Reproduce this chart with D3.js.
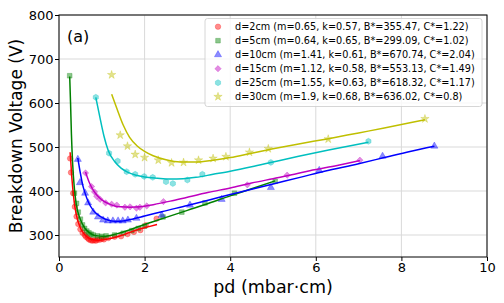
<!DOCTYPE html>
<html><head><meta charset="utf-8">
<script src="https://cdn.jsdelivr.net/npm/d3@7"></script>
<style>body{margin:0;background:#fff}svg{display:block;font-family:"DejaVu Sans",sans-serif}</style>
</head><body><svg id="c" width="504" height="303"></svg>
<script>
const seriesNames = ["d=2cm (m=0.65, k=0.57, B*=355.47, C*=1.22)","d=5cm (m=0.64, k=0.65, B*=299.09, C*=1.02)","d=10cm (m=1.41, k=0.61, B*=670.74, C*=2.04)","d=15cm (m=1.12, k=0.58, B*=553.13, C*=1.49)","d=25cm (m=1.55, k=0.63, B*=618.32, C*=1.17)","d=30cm (m=1.9, k=0.68, B*=636.02, C*=0.8)"];
const colors = ["#ff0000","#008000","#0000ff","#bf00bf","#00bfbf","#bfbf00"];
const markers = ["circle","square","triangle","diamond","hexagon","star"];
const xTicks = [0,2,4,6,8,10];
const yTicks = [300,400,500,600,700,800];

// measured points [pd, V]
const pts2 = [[0.26,474],[0.28,442],[0.33,395],[0.37,364],[0.41,342],[0.45,325],[0.5,313],[0.55,305],[0.6,300],[0.63,296],[0.67,293],[0.7,290],[0.74,288],[0.78,287],[0.82,288],[0.86,287],[0.9,289],[0.95,289],[1.0,291],[1.05,290],[1.15,293],[1.3,296],[1.45,297],[1.6,302],[1.75,307],[1.9,311],[2.03,322],[2.28,337]];
const pts5 = [[0.25,662],[0.36,395],[0.41,372],[0.45,352],[0.5,336],[0.55,323],[0.6,315],[0.65,309],[0.7,305],[0.75,302],[0.8,300],[0.9,298],[1.0,297],[1.1,298],[1.3,300],[1.5,304],[1.7,310],[1.85,315],[2.0,320],[2.43,341],[2.87,352],[3.41,373],[4.1,395],[5.05,422]];
const pts10 = [[0.44,472],[0.49,419],[0.61,395],[0.68,373],[0.8,352],[0.91,341],[1.03,334],[1.14,332],[1.26,332],[1.38,332],[1.49,332],[1.61,334],[1.81,338],[2.4,345],[3.06,368],[3.8,381],[4.95,408],[6.08,447],[7.56,479],[8.77,502]];
const pts15 = [[0.62,441],[0.76,410],[0.83,398],[0.88,388],[0.96,381],[1.09,373],[1.23,370],[1.35,368],[1.54,363],[1.66,364],[1.81,361],[1.89,363],[2.05,366],[2.44,376],[4.4,414],[5.33,436],[7.03,470]];
const pts25 = [[0.86,613],[1.17,486],[1.37,468],[1.58,444],[1.78,438],[1.99,433],[2.19,431],[2.5,421],[2.66,417],[3.0,425],[3.35,438],[4.95,465],[7.23,513]];
const pts30 = [[1.23,664],[1.43,527],[1.6,502],[1.78,483],[2.0,476],[2.32,470],[2.63,464],[2.91,465],[3.26,470],[3.6,474],[3.9,478],[4.45,488],[4.89,496],[6.29,518],[8.55,564]];

// fitted curves [pd, V]
const fit2 = [[0.26,488],[0.3,430],[0.35,380],[0.4,348],[0.5,316],[0.6,301],[0.7,293],[0.8,289],[0.9,288],[1.0,289],[1.2,292],[1.4,297],[1.66,306],[1.9,314],[2.1,319],[2.29,324]];
const fit5 = [[0.25,660],[0.27,600],[0.29,530],[0.32,460],[0.36,405],[0.4,372],[0.5,335],[0.6,316],[0.7,306],[0.8,300],[0.9,298],[1.0,297],[1.2,299],[1.4,304],[1.66,312],[2.0,324],[2.5,340],[3.0,356],[3.5,372],[4.0,389],[4.5,405],[5.05,423]];
const fit10 = [[0.44,475],[0.5,440],[0.55,415],[0.6,398],[0.68,376],[0.8,356],[0.92,345],[1.04,338],[1.14,334],[1.3,331],[1.5,332],[1.66,335],[2.0,343],[2.4,353],[3.0,367],[3.53,380],[4.0,392],[4.5,404],[5.0,416],[5.63,431],[6.2,445],[7.0,462],[7.6,476],[8.2,490],[8.77,502]];
const fit15 = [[0.62,443],[0.7,421],[0.76,409],[0.85,395],[0.92,387],[1.0,380],[1.14,372],[1.3,366],[1.45,364],[1.66,363],[1.9,364],[2.2,369],[2.6,377],[3.0,386],[3.5,397],[4.0,407],[4.5,418],[5.0,428],[5.5,438],[5.86,446],[6.5,458],[7.03,469]];
const fit25 = [[0.86,613],[0.95,570],[1.05,525],[1.15,492],[1.3,467],[1.45,452],[1.6,443],[1.8,436],[2.0,432],[2.3,429],[2.6,427],[2.9,428],[3.2,431],[3.6,438],[4.0,445],[4.5,455],[5.0,466],[5.6,479],[6.3,493],[7.23,511]];
const fit30 = [[1.23,620],[1.35,588],[1.5,550],[1.65,522],[1.82,503],[2.0,490],[2.2,480],[2.5,471],[2.83,466],[3.2,466],[3.6,470],[4.0,476],[4.5,486],[5.0,496],[5.6,507],[6.3,519],[7.0,532],[7.6,543],[8.2,555],[8.55,562]];

const pointSets = [pts2,pts5,pts10,pts15,pts25,pts30];
const fitSets = [fit2,fit5,fit10,fit15,fit25,fit30];

const svg = d3.select("#c");
const L=59, R=487, T=15, B=257;
const x = d3.scaleLinear().domain([0,10]).range([L,R]);
const y = d3.scaleLinear().domain([250,800]).range([B,T]);

// grid
svg.append("g").selectAll("line").data(xTicks).join("line")
  .attr("x1",d=>x(d)).attr("x2",d=>x(d)).attr("y1",T).attr("y2",B)
  .attr("stroke","#d9d9d9").attr("stroke-width",1);
svg.append("g").selectAll("line").data(yTicks).join("line")
  .attr("y1",d=>y(d)).attr("y2",d=>y(d)).attr("x1",L).attr("x2",R)
  .attr("stroke","#d9d9d9").attr("stroke-width",1);

// axes
const xa = svg.append("g").attr("transform",`translate(0,${B})`)
  .call(d3.axisBottom(x).tickValues(xTicks).tickSize(4).tickSizeOuter(0).tickFormat(d3.format("d")));
const ya = svg.append("g").attr("transform",`translate(${L},0)`)
  .call(d3.axisLeft(y).tickValues(yTicks).tickSize(4).tickSizeOuter(0).tickFormat(d3.format("d")));
[xa,ya].forEach(a=>{a.select(".domain").remove();a.selectAll("text").attr("font-size","13px").attr("fill","#000").attr("font-family","DejaVu Sans");a.selectAll("line").attr("stroke","#000");});
xa.selectAll("text").attr("y",5.5);
ya.selectAll("text").attr("x",-5.5);

// clip
svg.append("clipPath").attr("id","clip").append("rect").attr("x",L).attr("y",T).attr("width",R-L).attr("height",B-T);
const plot = svg.append("g").attr("clip-path","url(#clip)");

function hexPath(r){let p="";for(let i=0;i<6;i++){const a=Math.PI/6+i*Math.PI/3;p+=(i?"L":"M")+(r*Math.cos(a)).toFixed(2)+","+(r*Math.sin(a)).toFixed(2);}return p+"Z";}
function markerPath(m){
  if(m==="circle") return d3.symbol(d3.symbolCircle,24)();
  if(m==="square") return d3.symbol(d3.symbolSquare,22)();
  if(m==="triangle") return d3.symbol(d3.symbolTriangle,22)();
  if(m==="diamond") return d3.symbol(d3.symbolSquare,20)();
  if(m==="hexagon") return hexPath(3);
  if(m==="star") return d3.symbol(d3.symbolStar,22)();
}
function markerRot(m){return m==="diamond"?" rotate(45)":"";}

pointSets.forEach((pts,i)=>{
  plot.append("g").selectAll("path").data(pts).join("path")
    .attr("d",markerPath(markers[i]))
    .attr("transform",d=>`translate(${x(d[0])},${y(d[1])})${markerRot(markers[i])}`)
    .attr("fill",colors[i]).attr("fill-opacity",0.45).attr("stroke",colors[i]).attr("stroke-opacity",0.45).attr("stroke-width",0.6);
});
const line = d3.line().x(d=>x(d[0])).y(d=>y(d[1])).curve(d3.curveMonotoneX);
fitSets.forEach((f,i)=>{
  plot.append("path").attr("d",line(f)).attr("fill","none").attr("stroke",colors[i]).attr("stroke-width",1.5);
});

// frame
svg.append("rect").attr("x",L).attr("y",T).attr("width",R-L).attr("height",B-T).attr("fill","none").attr("stroke","#000").attr("stroke-width",1);

// legend
const lg = svg.append("g");
lg.append("rect").attr("x",205).attr("y",18.5).attr("width",277).attr("height",88).attr("rx",2.5)
  .attr("fill","#fff").attr("fill-opacity",0.8).attr("stroke","#cccccc").attr("stroke-width",0.8);
seriesNames.forEach((n,i)=>{
  const cy = 26.7 + i*14;
  lg.append("path").attr("d",markerPath(markers[i])).attr("transform",`translate(218,${cy})${markerRot(markers[i])}`)
    .attr("fill",colors[i]).attr("fill-opacity",0.45).attr("stroke",colors[i]).attr("stroke-opacity",0.45).attr("stroke-width",0.6);
  lg.append("text").attr("x",235).attr("y",cy).attr("dy","0.35em").attr("font-size","9.7px").attr("fill","#000").text(n);
});

// labels
svg.append("text").attr("x",67).attr("y",42).attr("font-size","16px").attr("fill","#000").text("(a)");
svg.append("text").attr("x",(L+R)/2).attr("y",293).attr("text-anchor","middle").attr("font-size","17.5px").attr("fill","#000").text("pd (mbar·cm)");
svg.append("text").attr("transform",`translate(22,${(T+B)/2}) rotate(-90)`).attr("text-anchor","middle").attr("font-size","17px").attr("fill","#000").text("Breakdown Voltage (V)");
</script></body></html>
